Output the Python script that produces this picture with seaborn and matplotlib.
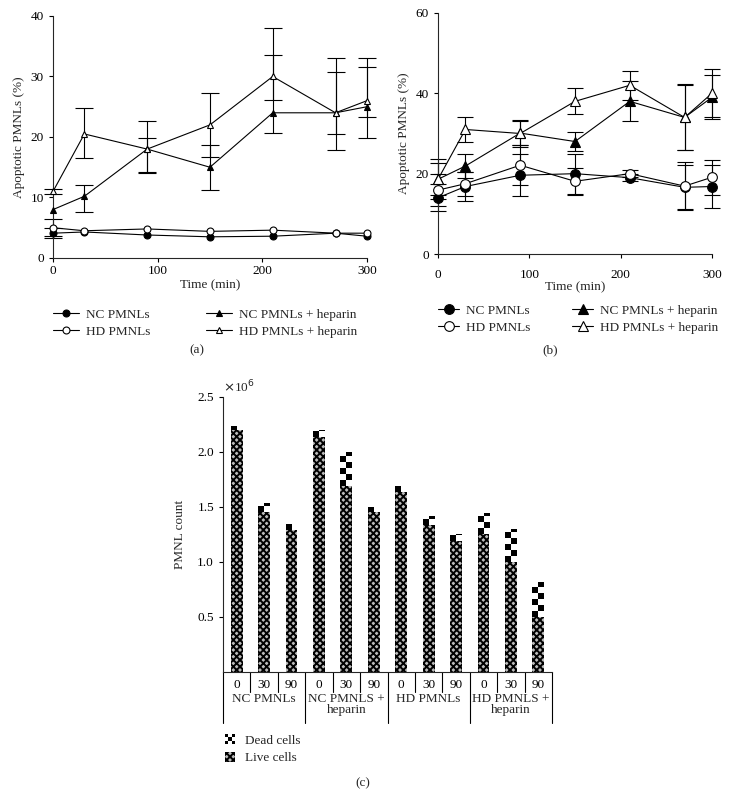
import numpy as np
import pandas as pd
import matplotlib
matplotlib.use("Agg")
import matplotlib.pyplot as plt
import matplotlib.transforms as mtransforms
from matplotlib.patches import Patch, Rectangle
from matplotlib.legend_handler import HandlerBase
import seaborn as sns

# 数据：凋亡曲线 (a)
time_min = [0, 30, 90, 150, 210, 270, 300]
a_nc = [4.1, 4.3, 3.8, 3.5, 3.6, 4.1, 3.6]
a_nc_err = [0.8, 0, 0, 0, 0, 0, 0]
a_hd = [5.0, 4.5, 4.8, 4.4, 4.6, 4.1, 4.1]
a_hd_err = [1.4, 0, 0, 0, 0, 0, 0]
a_nch = [8.0, 10.2, 18.0, 15.0, 24.0, 24.0, 25.0]
a_nch_lo = [8.0, 7.6, 14.2, 11.3, 20.7, 20.5, 23.3]
a_nch_hi = [8.0, 12.0, 19.9, 18.6, 33.6, 30.7, 31.6]
a_hdh = [11.0, 20.5, 18.0, 22.0, 30.0, 24.0, 26.0]
a_hdh_lo = [10.6, 16.5, 14.0, 16.7, 26.1, 17.9, 19.9]
a_hdh_hi = [11.4, 24.8, 22.6, 27.3, 38.0, 33.0, 33.0]

# 数据：凋亡曲线 (b)
b_nc = [14.0, 16.8, 19.6, 20.0, 19.0, 16.6, 16.8]
b_nc_err = [3.4, 3.5, 5.2, 5.0, 0.8, 5.5, 5.3]
b_hd = [15.9, 17.5, 22.1, 18.1, 20.0, 16.9, 19.1]
b_hd_err = [4.0, 3.0, 5.0, 3.4, 0.8, 6.0, 4.4]
b_nch = [18.6, 21.9, 30.1, 28.0, 38.0, 34.0, 39.0]
b_nch_err = [4.0, 3.0, 3.0, 2.3, 5.0, 8.2, 5.5]
b_hdh = [18.6, 31.0, 30.0, 38.0, 42.0, 34.0, 40.0]
b_hdh_err = [5.0, 3.0, 3.4, 3.2, 3.6, 8.0, 6.0]

# 数据：细胞计数 (c)，单位 10^6
groups = ["NC PMNLs", "NC PMNLS +\nheparin", "HD PMNLs", "HD PMNLS +\nheparin"]
times_c = ["0", "30", "90"]
live = [2.20, 1.45, 1.29, 2.14, 1.69, 1.45, 1.64, 1.34, 1.19, 1.25, 1.00, 0.50]
dead = [0.04, 0.09, 0.055, 0.06, 0.31, 0.05, 0.05, 0.08, 0.06, 0.195, 0.30, 0.32]

sns.set_style("ticks")
plt.rcParams["font.family"] = ["Liberation Serif", "DejaVu Serif"]
plt.rcParams["font.size"] = 9.5
plt.rcParams["axes.linewidth"] = 0.8
plt.rcParams["hatch.linewidth"] = 1.4
for k in ["xtick", "ytick"]:
    plt.rcParams[k + ".major.size"] = 3
    plt.rcParams[k + ".major.width"] = 0.8
    plt.rcParams[k + ".direction"] = "out"
    plt.rcParams[k + ".color"] = "black"

fig = plt.figure(figsize=(7.3, 7.96), dpi=100)


def draw_err(ax, x, y, lo, hi, cap):
    x = np.array(x); y = np.array(y)
    lo = np.array(lo); hi = np.array(hi)
    m = (hi - lo) > 0
    ax.errorbar(x[m], y[m], yerr=[(y - lo)[m], (hi - y)[m]], fmt="none",
                ecolor="black", elinewidth=0.8, capsize=cap, capthick=0.8,
                clip_on=False, zorder=2)


def line_panel(ax, series, ms, cap, ymax, yticks):
    for vals, lo, hi, mk, filled, lab in series:
        draw_err(ax, time_min, vals, lo, hi, cap)
        sns.lineplot(x=time_min, y=vals, ax=ax, color="black", lw=0.8,
                     marker=mk, markersize=ms,
                     markerfacecolor="black" if filled else "white",
                     markeredgecolor="black", markeredgewidth=0.8,
                     label=lab, clip_on=False, zorder=3)
    ax.set_xlim(0, 300)
    ax.set_ylim(0, ymax)
    ax.set_xticks([0, 100, 200, 300])
    ax.set_yticks(yticks)
    ax.set_xlabel("Time (min)", labelpad=2)
    ax.set_ylabel("Apoptotic PMNLs (%)")
    sns.despine(ax=ax)
    ax.get_legend().remove()


# (a)
ax_a = fig.add_axes([0.0726, 0.6759, 0.430, 0.304])
line_panel(ax_a, [
    (a_nc, np.subtract(a_nc, a_nc_err), np.add(a_nc, a_nc_err), "o", True, "NC PMNLs"),
    (a_hd, np.subtract(a_hd, a_hd_err), np.add(a_hd, a_hd_err), "o", False, "HD PMNLs"),
    (a_nch, a_nch_lo, a_nch_hi, "^", True, "NC PMNLs + heparin"),
    (a_hdh, a_hdh_lo, a_hdh_hi, "^", False, "HD PMNLs + heparin"),
], 5, 6.5, 40, [0, 10, 20, 30, 40])
ax_a.tick_params(axis="x", pad=2)

# (b)
ax_b = fig.add_axes([0.600, 0.6809, 0.3753, 0.3028])
line_panel(ax_b, [
    (b_nc, np.subtract(b_nc, b_nc_err), np.add(b_nc, b_nc_err), "o", True, "NC PMNLs"),
    (b_hd, np.subtract(b_hd, b_hd_err), np.add(b_hd, b_hd_err), "o", False, "HD PMNLs"),
    (b_nch, np.subtract(b_nch, b_nch_err), np.add(b_nch, b_nch_err), "^", True, "NC PMNLs + heparin"),
    (b_hdh, np.subtract(b_hdh, b_hdh_err), np.add(b_hdh, b_hdh_err), "^", False, "HD PMNLs + heparin"),
], 7, 6, 60, [0, 20, 40, 60])
ax_b.tick_params(axis="x", pad=8)
ax_b.set_xlabel("Time (min)", labelpad=0)

for ax, x0, y0, hl, cs in [(ax_a, 0.0726, 0.612, 2.0, 4.2), (ax_b, 0.600, 0.617, 1.6, 3.2)]:
    h, l = ax.get_legend_handles_labels()
    fig.legend(h, l, loc="upper left", bbox_to_anchor=(x0, y0), ncol=2,
               frameon=False, borderpad=0, borderaxespad=0, handlelength=hl,
               handletextpad=0.5, columnspacing=cs, labelspacing=0.35,
               fontsize=9.5)

# (c)
ax_c = fig.add_axes([0.3055, 0.1558, 0.4507, 0.3455])
cats = [g.split("\n")[0] + " " + t for g in groups for t in times_c]
total = np.add(live, dead)
df = pd.DataFrame({"cat": cats, "live": live, "total": total})
sns.barplot(data=df, x="cat", y="total", order=cats, color="white",
            width=0.43, linewidth=0, edgecolor="black", ax=ax_c, zorder=2)
sns.barplot(data=df, x="cat", y="live", order=cats, color="#bbbbbb",
            width=0.43, linewidth=0, edgecolor="black", hatch="xxxxx",
            ax=ax_c, zorder=3)
ax_c.set_xlim(-0.5, 11.5)
ax_c.set_ylim(0, 2.5)

# 死细胞：棋盘格纹理
fig_w_px = fig.get_figwidth() * fig.dpi
fig_h_px = fig.get_figheight() * fig.dpi
px_x = 0.4507 * fig_w_px / 12.0
px_y = 0.3455 * fig_h_px / 2.5
for i, p in enumerate(ax_c.containers[0]):
    x0 = p.get_x(); w = p.get_width()
    cw = w / 2
    ch = cw * px_x / px_y
    nrow = int(np.ceil(dead[i] / ch)) + 1
    arr = np.indices((nrow, 2)).sum(axis=0) % 2
    im = ax_c.imshow(arr[::-1], extent=[x0, x0 + w, live[i], live[i] + nrow * ch],
                     cmap="gray", interpolation="nearest", aspect="auto", zorder=2.5)
    im.set_clip_path(p)
ax_c.set_xlim(-0.5, 11.5)
ax_c.set_ylim(0, 2.5)

ax_c.set_xticks(range(12), times_c * 4)
ax_c.tick_params(axis="x", length=0, pad=5)
ax_c.set_yticks([0.5, 1.0, 1.5, 2.0, 2.5], ["0.5", "1.0", "1.5", "2.0", "2.5"])
ax_c.set_xlabel("")
ax_c.set_ylabel("PMNL count", labelpad=8)
sns.despine(ax=ax_c)
ax_c.text(0.0, 1.005, r"$\times$10$^6$", transform=ax_c.transAxes, ha="left",
          va="bottom", fontsize=9.5)

# 下方分组表格
trans = mtransforms.blended_transform_factory(ax_c.transData, ax_c.transAxes)
for b in np.arange(-0.5, 12, 1.0):
    low = -0.185 if (b + 0.5) % 3 == 0 else -0.073
    ax_c.plot([b, b], [0, low], transform=trans, color="black", lw=0.8, clip_on=False)
for gi, g in enumerate(groups):
    ax_c.text(gi * 3 + 1, -0.075, g, transform=trans, ha="center", va="top",
              linespacing=0.95, fontsize=9.5)


class CheckerHandler(HandlerBase):
    def create_artists(self, legend, orig_handle, xdescent, ydescent, width,
                       height, fontsize, trans):
        arts = []
        n = 3
        for r in range(n):
            for c in range(n):
                col = "black" if (r + c) % 2 == 0 else "white"
                arts.append(Rectangle((-xdescent + c * width / n, -ydescent + r * height / n),
                                      width / n, height / n, facecolor=col,
                                      edgecolor="none", transform=trans))
        return arts


dead_h = Patch(facecolor="white")
live_h = Patch(facecolor="#bbbbbb", edgecolor="black", hatch="xxxxx", linewidth=0)
fig.legend([dead_h, live_h], ["Dead cells", "Live cells"], loc="upper left",
           bbox_to_anchor=(0.308, 0.078), frameon=False, borderpad=0,
           borderaxespad=0, handlelength=0.8, handleheight=0.8,
           handletextpad=0.7, labelspacing=0.4, fontsize=9.5,
           handler_map={dead_h: CheckerHandler()})

fig.text(0.27, 0.560, "(a)", ha="center", va="center", fontsize=9.5)
fig.text(0.753, 0.560, "(b)", ha="center", va="center", fontsize=9.5)
fig.text(0.497, 0.016, "(c)", ha="center", va="center", fontsize=9.5)

fig.savefig("out.png", dpi=100)
